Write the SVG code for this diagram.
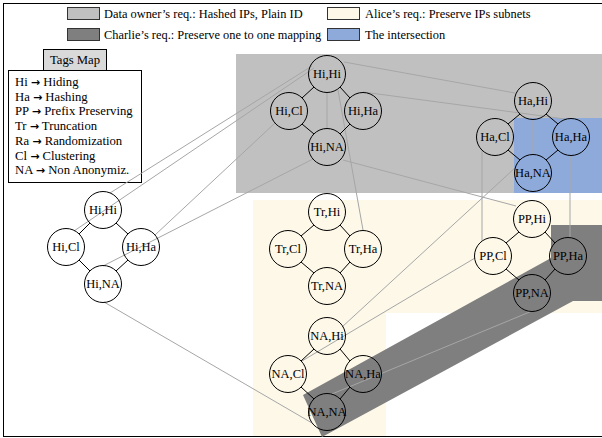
<svg xmlns="http://www.w3.org/2000/svg" width="602" height="438" viewBox="0 0 602 438">
  <style>
    text { font-family: "Liberation Serif", "Times New Roman", serif; fill: #000; }
    .lbl { font-size: 12.7px; }
    .key { font-size: 12.4px; }
    .arr { font-family: "DejaVu Sans", sans-serif; font-weight: bold; font-size: 11px; }
    .node circle { fill: none; stroke: #000; stroke-width: 1; }
    .node text { font-size: 12.5px; text-anchor: middle; }
    .sw { stroke: #333; stroke-width: 1; }
    .link line { stroke: #a6a6a6; stroke-width: 1; }
    .edge line { stroke: #000; stroke-width: 1; }
  </style>

  <!-- page frame -->
  <rect x="3.5" y="3.5" width="610" height="433" fill="#fff" stroke="#000" stroke-width="1"/>

  <!-- requirement areas -->
  <g id="areas">
    <rect x="236" y="54" width="366" height="139" fill="#c0c0c0"/>
    <rect x="514" y="118" width="88" height="75" fill="#8eaadb"/>
    <polygon points="253,200 602,200 602,313 386,313 386,436 253,436" fill="#fdf8e8"/>
    <polygon points="303,395 551,258 551,225 602,225 602,301 573,301 322,437" fill="#7f7f7f"/>
  </g>

  <!-- legend -->
  <g id="legend">
    <rect class="sw" x="67.5" y="7.5" width="32" height="12" fill="#c0c0c0"/>
    <text class="key" x="104" y="17.5">Data owner’s req.: Hashed IPs, Plain ID</text>
    <rect class="sw" x="67.5" y="28.5" width="32" height="12" fill="#7f7f7f"/>
    <text class="key" x="104" y="38.5">Charlie’s req.: Preserve one to one mapping</text>
    <rect class="sw" x="327.5" y="7.5" width="32" height="12" fill="#fdf8e8"/>
    <text class="key" x="365" y="17.5">Alice’s req.: Preserve IPs subnets</text>
    <rect class="sw" x="327.5" y="28.5" width="32" height="12" fill="#8eaadb"/>
    <text class="key" x="365" y="38.5">The intersection</text>
  </g>

  <!-- tags map -->
  <g id="tags">
    <rect x="43.5" y="49.5" width="63" height="21" fill="#d9d9d9" stroke="#000"/>
    <text class="lbl" x="75" y="64" text-anchor="middle">Tags Map</text>
    <rect x="8.5" y="70.5" width="133" height="112" fill="#fff" stroke="#000"/>
    <text class="lbl" x="15" y="86">Hi <tspan class="arr">→</tspan> Hiding</text>
    <text class="lbl" x="15" y="100.5">Ha <tspan class="arr">→</tspan> Hashing</text>
    <text class="lbl" x="15" y="115">PP <tspan class="arr">→</tspan> Prefix Preserving</text>
    <text class="lbl" x="15" y="130">Tr <tspan class="arr">→</tspan> Truncation</text>
    <text class="lbl" x="15" y="145">Ra <tspan class="arr">→</tspan> Randomization</text>
    <text class="lbl" x="15" y="159.5">Cl <tspan class="arr">→</tspan> Clustering</text>
    <text class="lbl" x="15" y="174">NA <tspan class="arr">→</tspan> Non Anonymiz.</text>
  </g>

  <!-- connectors -->
  <g id="connectors">
    <g class="link">
      <line x1="327" y1="92.5" x2="327" y2="128.5"/>
      <line x1="533" y1="119.5" x2="533" y2="154.5"/>
      <line x1="110" y1="193" x2="312" y2="66"/>
      <line x1="74" y1="231" x2="314" y2="68"/>
      <line x1="155" y1="235" x2="275" y2="123"/>
      <line x1="103" y1="266" x2="313" y2="159"/>
      <line x1="104" y1="302" x2="312" y2="423"/>
      <line x1="344" y1="62" x2="515" y2="93"/>
      <line x1="363" y1="92" x2="565" y2="119"/>
      <line x1="343" y1="160" x2="516" y2="206"/>
      <line x1="338" y1="90" x2="363" y2="230"/>
      <line x1="482" y1="150" x2="482" y2="241"/>
      <line x1="570" y1="155" x2="570" y2="237"/>
      <line x1="516" y1="167" x2="342" y2="327"/>
      <line x1="475" y1="258" x2="302" y2="361"/>
      <line x1="532" y1="311" x2="332" y2="394"/>
    </g>
    <g class="edge">
      <line x1="314" y1="87" x2="302" y2="98"/><line x1="340" y1="87" x2="350" y2="98"/>
      <line x1="302" y1="124" x2="314" y2="134"/><line x1="350" y1="124" x2="340" y2="134"/>
      <line x1="520" y1="114" x2="508" y2="124"/><line x1="546" y1="114" x2="558" y2="124"/>
      <line x1="508" y1="150" x2="520" y2="160"/><line x1="558" y1="150" x2="546" y2="160"/>
      <line x1="90" y1="223" x2="79" y2="234"/><line x1="116" y1="223" x2="128" y2="234"/>
      <line x1="79" y1="260" x2="90" y2="271"/><line x1="128" y1="260" x2="116" y2="271"/>
      <line x1="314" y1="225" x2="301" y2="236"/><line x1="340" y1="225" x2="350" y2="236"/>
      <line x1="301" y1="262" x2="314" y2="273"/><line x1="350" y1="262" x2="340" y2="273"/>
      <line x1="314" y1="349" x2="301" y2="361"/><line x1="340" y1="349" x2="350" y2="361"/>
      <line x1="301" y1="387" x2="314" y2="399"/><line x1="350" y1="387" x2="340" y2="399"/>
      <line x1="519" y1="232" x2="506" y2="243"/><line x1="545" y1="232" x2="555" y2="243"/>
      <line x1="506" y1="269" x2="519" y2="280"/><line x1="555" y1="269" x2="545" y2="280"/>
    </g>
  </g>

  <!-- Hi,* lattice (top) -->
  <g id="n-hi-hi-a" class="node"><circle cx="327" cy="74" r="18.5"/><text x="327" y="78">Hi,Hi</text></g>
  <g id="n-hi-cl-a" class="node"><circle cx="289" cy="111" r="18.5"/><text x="289" y="115">Hi,Cl</text></g>
  <g id="n-hi-ha-a" class="node"><circle cx="363" cy="111" r="18.5"/><text x="363" y="115">Hi,Ha</text></g>
  <g id="n-hi-na-a" class="node"><circle cx="327" cy="147" r="18.5"/><text x="327" y="151">Hi,NA</text></g>

  <!-- Ha,* lattice -->
  <g id="n-ha-hi" class="node"><circle cx="533" cy="101" r="18.5"/><text x="533" y="105">Ha,Hi</text></g>
  <g id="n-ha-cl" class="node"><circle cx="495" cy="137" r="18.5"/><text x="495" y="141">Ha,Cl</text></g>
  <g id="n-ha-ha" class="node"><circle cx="571" cy="137" r="18.5"/><text x="571" y="141">Ha,Ha</text></g>
  <g id="n-ha-na" class="node"><circle cx="533" cy="173" r="18.5"/><text x="533" y="177">Ha,NA</text></g>

  <!-- Hi,* lattice (left) -->
  <g id="n-hi-hi-b" class="node"><circle cx="103" cy="210" r="18.5"/><text x="103" y="214">Hi,Hi</text></g>
  <g id="n-hi-cl-b" class="node"><circle cx="66" cy="247" r="18.5"/><text x="66" y="251">Hi,Cl</text></g>
  <g id="n-hi-ha-b" class="node"><circle cx="141" cy="247" r="18.5"/><text x="141" y="251">Hi,Ha</text></g>
  <g id="n-hi-na-b" class="node"><circle cx="103" cy="284" r="18.5"/><text x="103" y="288">Hi,NA</text></g>

  <!-- Tr,* lattice -->
  <g id="n-tr-hi" class="node"><circle cx="327" cy="212" r="18.5"/><text x="327" y="216">Tr,Hi</text></g>
  <g id="n-tr-cl" class="node"><circle cx="288" cy="249" r="18.5"/><text x="288" y="253">Tr,Cl</text></g>
  <g id="n-tr-ha" class="node"><circle cx="363" cy="249" r="18.5"/><text x="363" y="253">Tr,Ha</text></g>
  <g id="n-tr-na" class="node"><circle cx="327" cy="286" r="18.5"/><text x="327" y="290">Tr,NA</text></g>

  <!-- NA,* lattice -->
  <g id="n-na-hi" class="node"><circle cx="327" cy="336" r="18.5"/><text x="327" y="340">NA,Hi</text></g>
  <g id="n-na-cl" class="node"><circle cx="288" cy="374" r="18.5"/><text x="288" y="378">NA,Cl</text></g>
  <g id="n-na-ha" class="node"><circle cx="363" cy="374" r="18.5"/><text x="363" y="378">NA,Ha</text></g>
  <g id="n-na-na" class="node"><circle cx="327" cy="412" r="18.5"/><text x="327" y="416">NA,NA</text></g>

  <!-- PP,* lattice -->
  <g id="n-pp-hi" class="node"><circle cx="532" cy="219" r="18.5"/><text x="532" y="223">PP,Hi</text></g>
  <g id="n-pp-cl" class="node"><circle cx="493" cy="256" r="18.5"/><text x="493" y="260">PP,Cl</text></g>
  <g id="n-pp-ha" class="node"><circle cx="568" cy="256" r="18.5"/><text x="568" y="260">PP,Ha</text></g>
  <g id="n-pp-na" class="node"><circle cx="532" cy="293" r="18.5"/><text x="532" y="297">PP,NA</text></g>
</svg>
